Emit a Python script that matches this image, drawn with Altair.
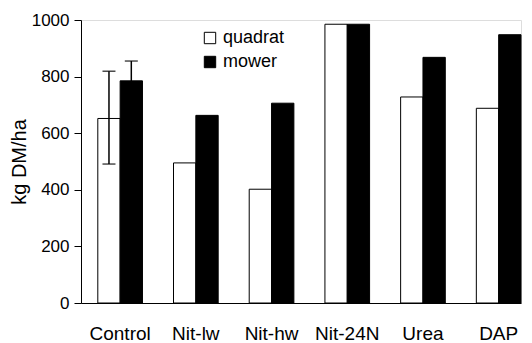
import altair as alt
import pandas as pd

treatments = ["Control", "Nit-lw", "Nit-hw", "Nit-24N", "Urea", "DAP"]
methods = ["quadrat", "mower"]
quadrat = [652, 495, 402, 985, 728, 688]
mower = [785, 663, 706, 985, 868, 948]

err_treat = ["Control", "Control"]
err_method = ["quadrat", "mower"]
err_lo = [491, 715]
err_hi = [819, 855]

rows = []
for t, q, m in zip(treatments, quadrat, mower):
    rows.append({"Treatment": t, "Method": "quadrat", "Value": q})
    rows.append({"Treatment": t, "Method": "mower", "Value": m})
df = pd.DataFrame(rows)
edf = pd.DataFrame({"Treatment": err_treat, "Method": err_method, "lo": err_lo, "hi": err_hi})

FONT = "Liberation Sans"

xenc = alt.X("Treatment:N", sort=treatments,
             scale=alt.Scale(paddingInner=0.41, paddingOuter=0.111, align=1),
             axis=alt.Axis(title=None, labelAngle=0, ticks=False, labelFontSize=19,
                           labelPadding=21, labelColor="black", domainColor="black",
                           labelFont=FONT))
xoff = alt.XOffset("Method:N", sort=methods, scale=alt.Scale(domain=methods, paddingInner=0, paddingOuter=0))
yscale = alt.Scale(domain=[0, 1000], nice=False)

bars = alt.Chart(df).mark_bar(stroke="black", strokeWidth=1).encode(
    x=xenc,
    xOffset=xoff,
    y=alt.Y("Value:Q", scale=yscale,
            axis=alt.Axis(title="kg DM/ha", values=[0, 200, 400, 600, 800, 1000], grid=False,
                          format="d",
                          tickSize=7, tickColor="black", domainColor="black", labelColor="black",
                          labelFontSize=17, labelFont=FONT, labelPadding=5,
                          titleFontSize=20, titleFont=FONT, titleFontWeight="normal",
                          titleColor="black", titlePadding=2)),
    fill=alt.Fill("Method:N", sort=methods,
                  scale=alt.Scale(domain=methods, range=["white", "black"]),
                  legend=alt.Legend(title=None, orient="none", legendX=120, legendY=9,
                                    symbolType="square", symbolSize=130,
                                    symbolStrokeColor="black", symbolStrokeWidth=1,
                                    labelFontSize=18, labelFont=FONT, labelColor="black",
                                    rowPadding=6, labelOffset=4)),
)

rules = alt.Chart(edf).mark_rule(color="black", strokeWidth=1.5).encode(
    x=alt.X("Treatment:N", sort=treatments),
    xOffset=alt.XOffset("Method:N", sort=methods),
    y=alt.Y("lo:Q", scale=yscale),
    y2="hi:Q",
)
caps_hi = alt.Chart(edf).mark_tick(color="black", thickness=1.5, size=13).encode(
    x=alt.X("Treatment:N", sort=treatments),
    xOffset=alt.XOffset("Method:N", sort=methods),
    y=alt.Y("hi:Q", scale=yscale),
)
caps_lo = alt.Chart(edf).transform_filter(alt.datum.Method == "quadrat").mark_tick(
    color="black", thickness=1.5, size=13).encode(
    x=alt.X("Treatment:N", sort=treatments),
    xOffset=alt.XOffset("Method:N", sort=methods),
    y=alt.Y("lo:Q", scale=yscale),
)

chart = alt.layer(bars, rules, caps_hi, caps_lo).properties(
    width=440, height=283, padding={"left": 1, "top": 3, "right": 0, "bottom": 0}
).configure_view(stroke=None).configure(font=FONT, background="white")

chart.save("out.html", embed_options={"renderer": "svg", "actions": False})
